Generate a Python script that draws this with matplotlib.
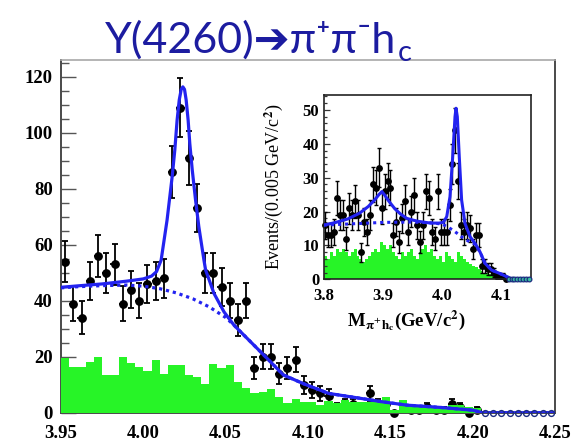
import numpy as np
import matplotlib
matplotlib.use("Agg")
import matplotlib.pyplot as plt
from matplotlib.ticker import MultipleLocator

plt.rcParams["font.family"] = ["Liberation Serif", "DejaVu Serif"]
plt.rcParams["font.weight"] = "bold"
plt.rcParams["mathtext.fontset"] = "stix"

# ---------------- main spectrum (5 MeV bins, 3.95 - 4.25 GeV) ----------------
main_range = (3.95, 4.25)
main_nbins = 60
main_counts = [54, 39, 34, 47, 56, 50, 53, 39, 44, 40,
               46, 47, 48, 86, 109, 91, 73, 50, 50, 45,
               40, 33, 40, 16, 20, 20, 14, 16, 19, 10,
               8, 7, 6, 2, 3, 3, 2, 7, 3, 3,
               0, 2, 1, 1, 2, 1, 1, 3, 2, 0, 1]
main_empty_centers = [4.2075, 4.2125, 4.2175, 4.2225, 4.2275,
                      4.2325, 4.2375, 4.2425, 4.2475]
main_sideband = [19.4, 16.4, 16.4, 18.2, 19.8, 13.5, 13.5, 19.8, 17.6, 16.2,
                 15.0, 18.8, 13.8, 17.0, 17.0, 13.5, 12.9, 10.2, 17.4, 15.8,
                 17.0, 11.0, 8.7, 6.9, 7.5, 8.3, 5.7, 3.6, 4.8, 3.9,
                 3.9, 2.7, 4.3, 3.6, 4.5, 3.9, 3.9, 3.9, 4.3, 5.7,
                 1.0, 4.5, 2.7, 2.7, 2.1, 2.4, 2.1, 2.7, 2.7, 2.1,
                 1.5, 0, 0, 0, 0, 0, 0, 0, 0, 0]

# total fit and background curves
main_fit_x = [3.95, 3.96, 3.975, 3.99, 4.0, 4.005, 4.008, 4.0108, 4.0144,
              4.0175, 4.0191, 4.0205, 4.0218, 4.023, 4.024, 4.025, 4.026,
              4.0272, 4.0282, 4.0297, 4.0317, 4.0337, 4.0368, 4.0378, 4.0429,
              4.049, 4.055, 4.065, 4.075, 4.085, 4.0975, 4.1125, 4.13, 4.145,
              4.16, 4.18, 4.2, 4.206, 4.25]
main_fit_y = [44.8, 45.3, 46.0, 47.0, 47.8, 48.8, 50.4, 54.5, 68.8,
              84.3, 93.8, 104.5, 111.7, 115.5, 116.4, 115.5, 111.7,
              104.5, 96.2, 86.7, 76.0, 66.4, 54.5, 51.0, 42.6,
              36.0, 31.3, 25.4, 19.5, 13.5, 10.3, 6.9, 5.3, 3.9,
              2.7, 1.9, 0.9, 0.0, 0.0]
main_bkg_x = [3.95, 3.96, 3.975, 3.99, 4.0, 4.01, 4.02, 4.03, 4.04, 4.05,
              4.055, 4.065, 4.075, 4.085, 4.0975, 4.1125, 4.13, 4.145,
              4.16, 4.18, 4.2, 4.206, 4.25]
main_bkg_y = [44.6, 45.0, 45.4, 45.6, 45.2, 44.3, 42.8, 40.7, 37.8, 34.0,
              31.3, 25.4, 19.5, 13.5, 10.3, 6.9, 5.3, 3.9,
              2.7, 1.9, 0.9, 0.0, 0.0]

main_yticks = [0, 20, 40, 60, 80, 100, 120]
main_xticks = [3.95, 4.00, 4.05, 4.10, 4.15, 4.20, 4.25]
main_xticklabels = ["3.95", "4.00", "4.05", "4.10", "4.15", "4.20", "4.25"]

# ---------------- inset: wider range (3.80 - 4.15 GeV) ----------------
inset_range = (3.80, 4.15)
inset_nbins = 70
inset_counts = [16, 13, 13, 14, 24, 19, 19, 12, 21, 19,
                23, 19, 8, 17, 14, 19, 28, 27, 33, 21,
                26, 29, 27, 13, 17, 11, 18, 23, 14, 20,
                25, 16, 11, 16, 26, 24, 14, 12, 26, 14,
                14, 14, 22, 34, 44, 29, 16, 14, 16, 15,
                9, 13, 13, 4, 4, 3, 3, 2, 1, 1,
                1, 0]
inset_empty_centers = [4.1125, 4.1175, 4.1225, 4.1275, 4.1325,
                       4.1375, 4.1425, 4.1475]
inset_sideband = [7, 6, 8, 7, 9, 8, 9, 8, 7, 8,
                  9, 7, 6, 5, 6, 7, 8, 9, 8, 11,
                  10, 9, 10, 8, 7, 6, 8, 7, 8, 9,
                  7, 6, 8, 9, 10, 8, 9, 7, 6, 7,
                  5, 8, 7, 6, 5, 8, 7, 6, 5, 4.5,
                  4, 3.5, 3, 2.5, 2, 2, 1.5, 1.5, 1, 1,
                  0.5, 0.3, 0, 0, 0, 0, 0, 0, 0, 0]
inset_fit_x = [3.80, 3.82, 3.84, 3.86, 3.875, 3.885, 3.893, 3.898, 3.903,
               3.91, 3.92, 3.93, 3.94, 3.95, 3.96, 3.98, 3.995, 4.002,
               4.0078, 4.0133, 4.0179, 4.0218, 4.0235, 4.0257, 4.029,
               4.033, 4.0387, 4.0472, 4.0557, 4.0641, 4.0726, 4.0839,
               4.098, 4.109, 4.117, 4.15]
inset_fit_y = [16.0, 16.8, 17.8, 19.5, 21.5, 23.3, 25.0, 25.9, 24.8,
               23.0, 20.8, 19.2, 18.0, 17.5, 17.1, 16.6, 16.6, 16.8,
               18.5, 24.4, 36.2, 48.0, 50.5, 48.0, 36.2,
               23.4, 16.5, 12.6, 10.6, 8.1, 4.7, 2.7,
               1.7, 0.8, 0.2, 0.0]
inset_bkg_x = [3.80, 3.85, 3.90, 3.95, 3.98, 4.0, 4.01, 4.02, 4.035, 4.047,
               4.0557, 4.0641, 4.0726, 4.0839, 4.098, 4.109, 4.117, 4.15]
inset_bkg_y = [16.0, 16.4, 16.8, 16.9, 16.7, 16.3, 15.4, 14.3, 12.3, 11.0,
               10.4, 8.1, 4.7, 2.7, 1.7, 0.8, 0.2, 0.0]
inset_yticks = [0, 10, 20, 30, 40, 50]
inset_xticks = [3.8, 3.9, 4.0, 4.1]
inset_xticklabels = ["3.8", "3.9", "4.0", "4.1"]

GREEN = "#27f427"
BLUE = "#2323f0"
FRAME = "#4a4a4a"


def draw_points(ax, edges, counts, msize, lw, cap):
    counts = np.asarray(counts, dtype=float)
    n = len(counts)
    lo, hi = edges[:n], edges[1:n + 1]
    centers = 0.5 * (lo + hi)
    half = 0.5 * (hi - lo)
    err = np.sqrt(counts)
    ax.errorbar(centers, counts, yerr=err, fmt="none", ecolor="black",
                elinewidth=lw, capsize=cap, capthick=lw, zorder=2)
    ax.errorbar(centers, counts, xerr=half, fmt="none", ecolor="black",
                elinewidth=lw, capsize=0, zorder=2)
    ax.plot(centers, counts, "o", color="black", ms=msize, zorder=2,
            clip_on=False)


fig = plt.figure(figsize=(5.74, 4.43), dpi=100)

# ---------------- main axes ----------------
ax = fig.add_axes([0.1063, 0.0684, 0.8606, 0.7962])
edges = np.linspace(main_range[0], main_range[1], main_nbins + 1)
draw_points(ax, edges, main_counts, 5.3, 1.3, 2.0)
ax.plot(main_empty_centers, np.zeros(len(main_empty_centers)), "o",
        mfc="none", mec="#1c2c80", ms=4.2, mew=1.0, zorder=5, clip_on=False)
ax.stairs(main_sideband, edges, fill=True, color=GREEN, lw=0, zorder=3)
ax.plot(main_bkg_x, main_bkg_y, color=BLUE, lw=2.3, ls=(0, (1.0, 1.2)),
        zorder=4)
ax.plot(main_fit_x, main_fit_y, color=BLUE, lw=2.3, zorder=4,
        solid_joinstyle="round")

ax.set_xlim(*main_range)
ax.set_ylim(0, 126)
ax.set_yticks(main_yticks)
ax.set_yticklabels([str(v) for v in main_yticks])
ax.yaxis.set_minor_locator(MultipleLocator(5))
ax.set_xticks(main_xticks)
ax.set_xticklabels(main_xticklabels)
ax.tick_params(axis="y", which="major", direction="in", length=11,
               width=1.0, color="#555555", pad=6, labelsize=13.5)
ax.tick_params(axis="y", which="minor", direction="in", length=5.5,
               width=1.0, color="#555555")
ax.tick_params(axis="x", which="both", length=0, pad=9, labelsize=13.5)
for side in ["left", "right", "bottom"]:
    ax.spines[side].set_color(FRAME)
    ax.spines[side].set_linewidth(1.4)
ax.spines["top"].set_color("#a8a8a8")
ax.spines["top"].set_linewidth(1.2)

# ---------------- inset axes ----------------
axin = fig.add_axes([0.5645, 0.3695, 0.3601, 0.4160])
iedges = np.linspace(inset_range[0], inset_range[1], inset_nbins + 1)
axin.stairs(inset_sideband, iedges, fill=True, color=GREEN, lw=0, zorder=1)
draw_points(axin, iedges, inset_counts, 3.9, 1.0, 1.6)
axin.plot(inset_empty_centers, np.zeros(len(inset_empty_centers)), "o",
          mfc="#38c0a0", mec="#1c2c80", ms=3.4, mew=0.9, zorder=5,
          clip_on=False)
axin.plot(inset_bkg_x, inset_bkg_y, color=BLUE, lw=2.2, ls=(0, (1.0, 1.3)),
          zorder=4)
axin.plot(inset_fit_x, inset_fit_y, color=BLUE, lw=2.2, zorder=4,
          solid_joinstyle="round")
axin.set_xlim(*inset_range)
axin.set_ylim(0, 54.4)
axin.set_yticks(inset_yticks)
axin.set_yticklabels([str(v) for v in inset_yticks])
axin.yaxis.set_minor_locator(MultipleLocator(2))
axin.set_xticks(inset_xticks)
axin.set_xticklabels(inset_xticklabels)
axin.tick_params(axis="y", which="major", direction="in", length=4.5,
                 width=0.9, color="#333333", pad=3.5, labelsize=12)
axin.tick_params(axis="y", which="minor", direction="in", length=2.5,
                 width=0.9, color="#333333")
axin.tick_params(axis="x", which="both", length=0, pad=6.5, labelsize=12)
for side in axin.spines.values():
    side.set_color("#222222")
    side.set_linewidth(1.2)
axin.set_ylabel(r"Events/(0.005 GeV/c$^{\mathbf{2}}$)", fontsize=13)
axin.yaxis.set_label_coords(-0.19, 0.5)
axin.text(0.40, -0.225,
          r"M$_{\mathbf{\pi^{+}h_{c}}}$(GeV/c$^{\mathbf{2}}$)",
          transform=axin.transAxes, ha="center", va="center", fontsize=13.5)

# ---------------- headline ----------------
title_kw = dict(family=["Lato", "DejaVu Sans"], color="#1c1ca0",
                weight="normal")
t = fig.text(105 / 574, 1 - 53 / 443, "Y(4260)\u2794\u03c0\u207a\u03c0\u207bh",
             fontsize=31, va="baseline", ha="left", **title_kw)
fig.canvas.draw()
bb = t.get_window_extent(renderer=fig.canvas.get_renderer())
fig.text(bb.x1 / fig.bbox.width + 0.002, 1 - 61 / 443, "c",
         fontsize=21, va="baseline", ha="left", **title_kw)

fig.savefig("out.png", dpi=100)
